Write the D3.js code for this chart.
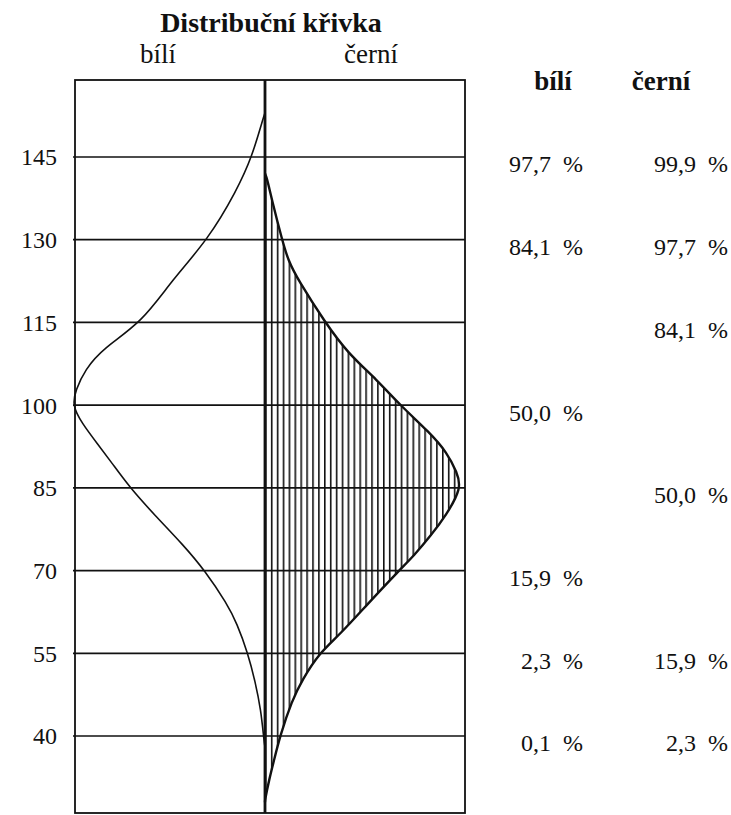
<!DOCTYPE html>
<html>
<head>
<meta charset="utf-8">
<script src="https://cdn.jsdelivr.net/npm/d3@7"></script>
<style>
  body { margin: 0; background: #fff; }
  text { font-family: "Liberation Serif", "DejaVu Serif", serif; fill: #111; }
</style>
</head>
<body>
<div id="chart"></div>
<script>
// IQ levels with a gridline and a tick label
var ticks = [40, 55, 70, 85, 100, 115, 130, 145];

// cumulative percentages printed next to each gridline ("" = none)
var bilePct  = ["0,1 %", "2,3 %", "15,9 %", "", "50,0 %", "", "84,1 %", "97,7 %"];
var cerniPct = ["2,3 %", "15,9 %", "", "50,0 %", "", "84,1 %", "97,7 %", "99,9 %"];

// curve: IQ and relative density (peak of bílí = 100)
var bileIQ      = [153, 152, 145, 139, 130, 122.7, 115, 110.3, 106.4, 102.8, 100, 96.7, 93.1, 89.5, 85, 80, 74.7, 70, 64, 60.4, 55, 50, 44.7, 39, 38];
var bileHustota = [0, 1, 6.8, 14.6, 29.7, 48.4, 64.1, 84.4, 93.8, 98.5, 100.5, 95.3, 87.5, 79.7, 70.3, 57.3, 42.7, 31.3, 19.8, 14.6, 8.9, 5.2, 2.1, 0.5, 0];

var cerniIQ      = [142, 141.2, 137.2, 130, 126.3, 122.7, 115, 109.4, 104.6, 100, 95, 91.4, 87.8, 85, 80, 76.4, 72.7, 70, 64, 58.6, 55, 50.1, 46.5, 40, 35.6, 32, 28.4, 28];
var cerniHustota = [0, 1, 3.6, 8.9, 12, 17.2, 31.3, 43.2, 58.3, 70.3, 85.9, 94.8, 100, 102.5, 94.3, 86.5, 77.6, 69.8, 53.6, 39.6, 28.1, 19.3, 14.1, 7.8, 4.7, 2.1, 0, 0];

var W = 731, H = 815;
var boxLeft = 75, boxRight = 465, boxTop = 80, boxBottom = 813;
var cx = 265; // centre line

var svg = d3.select("#chart").append("svg")
  .attr("width", W)
  .attr("height", H);

var y = d3.scaleLinear().domain([40, 145]).range([736, 157]);
var w = d3.scaleLinear().domain([0, 100]).range([0, 192]);

var bile = bileIQ.map(function(v, i) { return { iq: v, h: bileHustota[i] }; });
var cerni = cerniIQ.map(function(v, i) { return { iq: v, h: cerniHustota[i] }; });

// hatching pattern for the černí area
var defs = svg.append("defs");
defs.append("pattern")
  .attr("id", "hatch")
  .attr("patternUnits", "userSpaceOnUse")
  .attr("x", cx)
  .attr("width", 5.9)
  .attr("height", 10)
  .append("rect")
  .attr("x", 0)
  .attr("y", 0)
  .attr("width", 1.6)
  .attr("height", 10)
  .attr("fill", "#111");

// horizontal gridlines
svg.selectAll(".grid")
  .data(ticks)
  .enter().append("line")
  .attr("class", "grid")
  .attr("x1", boxLeft - 2)
  .attr("x2", boxRight)
  .attr("y1", function(d) { return y(d); })
  .attr("y2", function(d) { return y(d); })
  .attr("stroke", "#111")
  .attr("stroke-width", 1.7);

// box
svg.append("rect")
  .attr("x", boxLeft)
  .attr("y", boxTop)
  .attr("width", boxRight - boxLeft)
  .attr("height", boxBottom - boxTop)
  .attr("fill", "none")
  .attr("stroke", "#111")
  .attr("stroke-width", 1.8);

var curve = d3.curveBasis;

// černí: hatched area + edge
var area = d3.area()
  .y(function(d) { return y(d.iq); })
  .x0(cx)
  .x1(function(d) { return cx + w(d.h); })
  .curve(curve);

svg.append("path")
  .datum(cerni)
  .attr("d", area)
  .attr("fill", "url(#hatch)");

svg.append("path")
  .datum(cerni)
  .attr("d", d3.line()
    .y(function(d) { return y(d.iq); })
    .x(function(d) { return cx + w(d.h); })
    .curve(curve))
  .attr("fill", "none")
  .attr("stroke", "#111")
  .attr("stroke-width", 2.4);

// bílí: plain curve on the left
svg.append("path")
  .datum(bile)
  .attr("d", d3.line()
    .y(function(d) { return y(d.iq); })
    .x(function(d) { return cx - w(d.h); })
    .curve(curve))
  .attr("fill", "none")
  .attr("stroke", "#111")
  .attr("stroke-width", 1.6);

// centre line
svg.append("line")
  .attr("x1", cx).attr("x2", cx)
  .attr("y1", boxTop).attr("y2", boxBottom)
  .attr("stroke", "#111")
  .attr("stroke-width", 2.8);

// tick labels
svg.selectAll(".tick")
  .data(ticks)
  .enter().append("text")
  .attr("class", "tick")
  .attr("x", 57)
  .attr("y", function(d) { return y(d); })
  .attr("dy", ".35em")
  .style("font-size", "24px")
  .style("text-anchor", "end")
  .text(function(d) { return d; });

// percentage columns
function pctColumn(labels, xRight) {
  svg.selectAll(null)
    .data(ticks)
    .enter().append("text")
    .attr("x", xRight)
    .attr("y", function(d) { return y(d) + 7; })
    .attr("dy", ".35em")
    .style("font-size", "24px")
    .style("word-spacing", "6px")
    .style("text-anchor", "end")
    .text(function(d, i) { return labels[i]; });
}
pctColumn(bilePct, 583);
pctColumn(cerniPct, 728);

// titles
svg.append("text")
  .attr("x", 271)
  .attr("y", 32)
  .style("font-size", "28px")
  .style("font-weight", "bold")
  .style("text-anchor", "middle")
  .text("Distribuční křivka");

svg.append("text")
  .attr("x", 158).attr("y", 63)
  .style("font-size", "27px")
  .style("text-anchor", "middle")
  .text("bílí");

svg.append("text")
  .attr("x", 371).attr("y", 63)
  .style("font-size", "27px")
  .style("text-anchor", "middle")
  .text("černí");

svg.append("text")
  .attr("x", 553).attr("y", 90)
  .style("font-size", "27px")
  .style("font-weight", "bold")
  .style("text-anchor", "middle")
  .text("bílí");

svg.append("text")
  .attr("x", 661).attr("y", 90)
  .style("font-size", "27px")
  .style("font-weight", "bold")
  .style("text-anchor", "middle")
  .text("černí");
</script>
</body>
</html>
